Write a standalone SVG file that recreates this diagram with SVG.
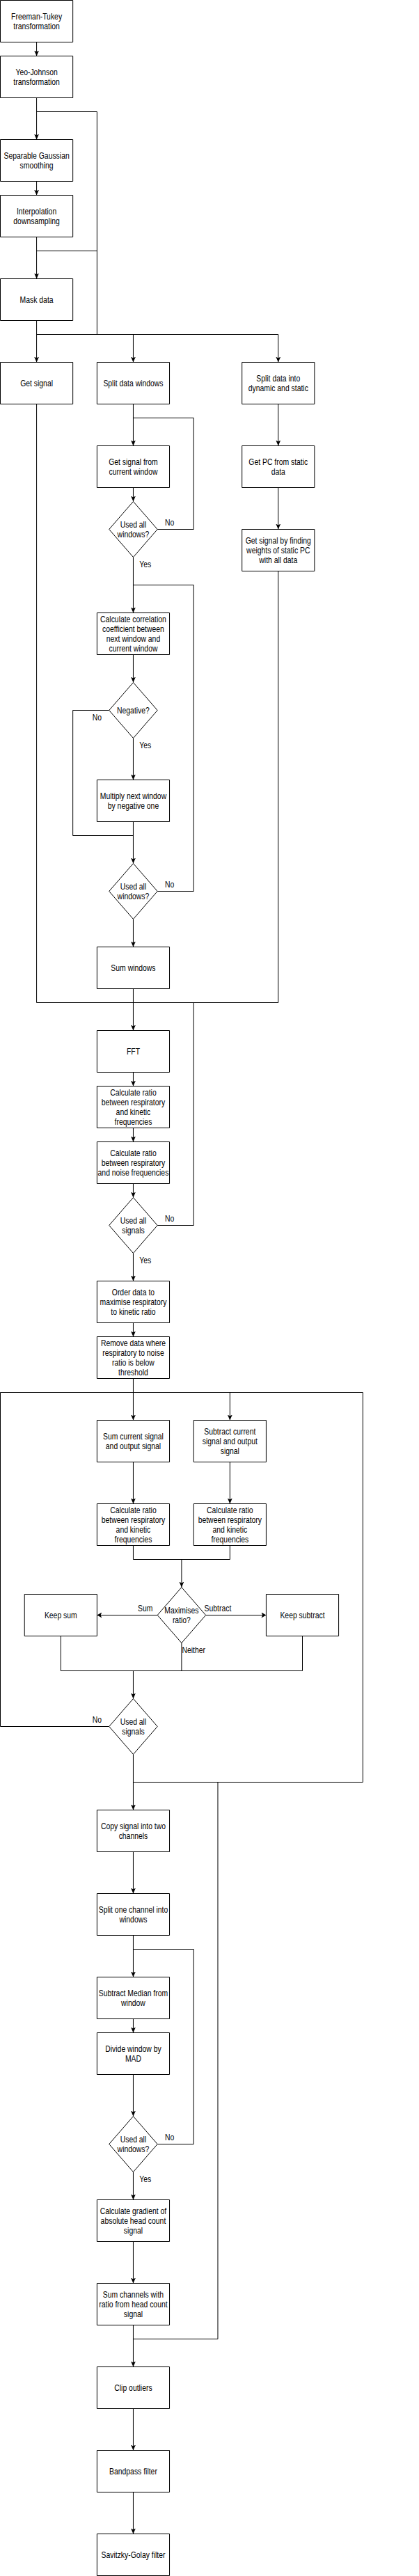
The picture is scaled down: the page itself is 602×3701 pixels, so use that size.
<svg xmlns="http://www.w3.org/2000/svg" width="602" height="3701" viewBox="0 0 602 3701">
<style>
.n rect,.n polygon{fill:#fff;stroke:#000;stroke-width:1;vector-effect:non-scaling-stroke}
.e path{fill:none;stroke:#000;stroke-width:1;vector-effect:non-scaling-stroke}
.e path.a{marker-end:url(#arr)}
text{font-family:"Liberation Sans",Arial,sans-serif;font-size:12px;fill:#000;text-anchor:middle}
</style>
<defs>
<marker id="arr" viewBox="0 0 8 8" refX="8" refY="4" markerWidth="8" markerHeight="8" orient="auto" markerUnits="userSpaceOnUse"><path d="M0,0 L8,4 L0,8 L2,4 Z" fill="#000"/></marker>
</defs>
<rect width="602" height="3701" fill="#fff"/>
<g transform="matrix(0.868 0 0 1 0.5 0.5)">
<g id="connectors" class="e">
<path class="a" d="M60,60V80"/>
<path class="a" d="M60,140V200"/>
<path d="M60,160H160V480"/>
<path class="a" d="M60,260V280"/>
<path class="a" d="M60,340V400"/>
<path d="M60,360H160"/>
<path class="a" d="M60,460V520"/>
<path d="M60,480H460"/>
<path class="a" d="M220,480V520"/>
<path class="a" d="M460,480V520"/>
<path class="a" d="M220,580V640"/>
<path d="M220,600H320V760H260"/>
<path class="a" d="M220,700V720"/>
<path class="a" d="M220,800V880"/>
<path d="M220,840H320V1280H260"/>
<path class="a" d="M220,940V980"/>
<path class="a" d="M220,1060V1120"/>
<path d="M180,1020H120V1200H220"/>
<path class="a" d="M220,1180V1240"/>
<path class="a" d="M220,1320V1360"/>
<path class="a" d="M220,1420V1480"/>
<path d="M60,580V1440H460V820"/>
<path class="a" d="M460,580V640"/>
<path class="a" d="M460,700V760"/>
<path d="M320,1440V1760H260"/>
<path class="a" d="M220,1540V1560"/>
<path class="a" d="M220,1620V1640"/>
<path class="a" d="M220,1700V1720"/>
<path class="a" d="M220,1800V1840"/>
<path class="a" d="M220,1900V1920"/>
<path class="a" d="M220,1980V2040"/>
<path d="M0,2000H600"/>
<path class="a" d="M380,2000V2040"/>
<path class="a" d="M220,2100V2160"/>
<path class="a" d="M380,2100V2160"/>
<path d="M220,2220V2240H380V2220"/>
<path class="a" d="M300,2240V2280"/>
<path class="a" d="M260,2320H160"/>
<path class="a" d="M340,2320H440"/>
<path d="M100,2350V2400H500V2350"/>
<path d="M300,2360V2400"/>
<path class="a" d="M220,2400V2440"/>
<path d="M180,2480H0V2000"/>
<path d="M600,2000V2560H220"/>
<path class="a" d="M220,2520V2600"/>
<path d="M360,2560V3360H220"/>
<path class="a" d="M220,2660V2720"/>
<path class="a" d="M220,2780V2840"/>
<path d="M220,2800H320V3080H260"/>
<path class="a" d="M220,2900V2920"/>
<path class="a" d="M220,2980V3040"/>
<path class="a" d="M220,3120V3160"/>
<path class="a" d="M220,3220V3280"/>
<path class="a" d="M220,3340V3400"/>
<path class="a" d="M220,3460V3520"/>
<path class="a" d="M220,3580V3640"/>
<text x="280" y="754.5">No</text>
<text x="240" y="814.5">Yes</text>
<text x="160" y="1034.5">No</text>
<text x="240" y="1074.5">Yes</text>
<text x="280" y="1274.5">No</text>
<text x="280" y="1754.5">No</text>
<text x="240" y="1814.5">Yes</text>
<text x="240" y="2314.5">Sum</text>
<text x="360" y="2314.5">Subtract</text>
<text x="320" y="2374.5">Neither</text>
<text x="160" y="2474.5">No</text>
<text x="280" y="3074.5">No</text>
<text x="240" y="3134.5">Yes</text>
</g>
<g id="n1" class="n"><rect x="0" y="0" width="120" height="60"/><text x="60" y="27.5">Freeman-Tukey</text><text x="60" y="41.5">transformation</text></g>
<g id="n2" class="n"><rect x="0" y="80" width="120" height="60"/><text x="60" y="107.5">Yeo-Johnson</text><text x="60" y="121.5">transformation</text></g>
<g id="n3" class="n"><rect x="0" y="200" width="120" height="60"/><text x="60" y="227.5">Separable Gaussian</text><text x="60" y="241.5">smoothing</text></g>
<g id="n4" class="n"><rect x="0" y="280" width="120" height="60"/><text x="60" y="307.5">Interpolation</text><text x="60" y="321.5">downsampling</text></g>
<g id="n5" class="n"><rect x="0" y="400" width="120" height="60"/><text x="60" y="434.5">Mask data</text></g>
<g id="n6" class="n"><rect x="0" y="520" width="120" height="60"/><text x="60" y="554.5">Get signal</text></g>
<g id="n7" class="n"><rect x="160" y="520" width="120" height="60"/><text x="220" y="554.5">Split data windows</text></g>
<g id="n8" class="n"><rect x="400" y="520" width="120" height="60"/><text x="460" y="547.5">Split data into</text><text x="460" y="561.5">dynamic and static</text></g>
<g id="n9" class="n"><rect x="160" y="640" width="120" height="60"/><text x="220" y="667.5">Get signal from</text><text x="220" y="681.5">current window</text></g>
<g id="d1" class="n"><polygon points="220,720 260,760 220,800 180,760"/><text x="220" y="757.5">Used all</text><text x="220" y="771.5">windows?</text></g>
<g id="n10" class="n"><rect x="400" y="640" width="120" height="60"/><text x="460" y="667.5">Get PC from static</text><text x="460" y="681.5">data</text></g>
<g id="n11" class="n"><rect x="400" y="760" width="120" height="60"/><text x="460" y="780.5">Get signal by finding</text><text x="460" y="794.5">weights of static PC</text><text x="460" y="808.5">with all data</text></g>
<g id="n12" class="n"><rect x="160" y="880" width="120" height="60"/><text x="220" y="893.5">Calculate correlation</text><text x="220" y="907.5">coefficient between</text><text x="220" y="921.5">next window and</text><text x="220" y="935.5">current window</text></g>
<g id="d2" class="n"><polygon points="220,980 260,1020 220,1060 180,1020"/><text x="220" y="1024.5">Negative?</text></g>
<g id="n13" class="n"><rect x="160" y="1120" width="120" height="60"/><text x="220" y="1147.5">Multiply next window</text><text x="220" y="1161.5">by negative one</text></g>
<g id="d3" class="n"><polygon points="220,1240 260,1280 220,1320 180,1280"/><text x="220" y="1277.5">Used all</text><text x="220" y="1291.5">windows?</text></g>
<g id="n14" class="n"><rect x="160" y="1360" width="120" height="60"/><text x="220" y="1394.5">Sum windows</text></g>
<g id="n15" class="n"><rect x="160" y="1480" width="120" height="60"/><text x="220" y="1514.5">FFT</text></g>
<g id="n16" class="n"><rect x="160" y="1560" width="120" height="60"/><text x="220" y="1573.5">Calculate ratio</text><text x="220" y="1587.5">between respiratory</text><text x="220" y="1601.5">and kinetic</text><text x="220" y="1615.5">frequencies</text></g>
<g id="n17" class="n"><rect x="160" y="1640" width="120" height="60"/><text x="220" y="1660.5">Calculate ratio</text><text x="220" y="1674.5">between respiratory</text><text x="220" y="1688.5">and noise frequencies</text></g>
<g id="d4" class="n"><polygon points="220,1720 260,1760 220,1800 180,1760"/><text x="220" y="1757.5">Used all</text><text x="220" y="1771.5">signals</text></g>
<g id="n18" class="n"><rect x="160" y="1840" width="120" height="60"/><text x="220" y="1860.5">Order data to</text><text x="220" y="1874.5">maximise respiratory</text><text x="220" y="1888.5">to kinetic ratio</text></g>
<g id="n19" class="n"><rect x="160" y="1920" width="120" height="60"/><text x="220" y="1933.5">Remove data where</text><text x="220" y="1947.5">respiratory to noise</text><text x="220" y="1961.5">ratio is below</text><text x="220" y="1975.5">threshold</text></g>
<g id="n20" class="n"><rect x="160" y="2040" width="120" height="60"/><text x="220" y="2067.5">Sum current signal</text><text x="220" y="2081.5">and output signal</text></g>
<g id="n21" class="n"><rect x="320" y="2040" width="120" height="60"/><text x="380" y="2060.5">Subtract current</text><text x="380" y="2074.5">signal and output</text><text x="380" y="2088.5">signal</text></g>
<g id="n22" class="n"><rect x="160" y="2160" width="120" height="60"/><text x="220" y="2173.5">Calculate ratio</text><text x="220" y="2187.5">between respiratory</text><text x="220" y="2201.5">and kinetic</text><text x="220" y="2215.5">frequencies</text></g>
<g id="n23" class="n"><rect x="320" y="2160" width="120" height="60"/><text x="380" y="2173.5">Calculate ratio</text><text x="380" y="2187.5">between respiratory</text><text x="380" y="2201.5">and kinetic</text><text x="380" y="2215.5">frequencies</text></g>
<g id="d5" class="n"><polygon points="300,2280 340,2320 300,2360 260,2320"/><text x="300" y="2317.5">Maximises</text><text x="300" y="2331.5">ratio?</text></g>
<g id="n24" class="n"><rect x="40" y="2290" width="120" height="60"/><text x="100" y="2324.5">Keep sum</text></g>
<g id="n25" class="n"><rect x="440" y="2290" width="120" height="60"/><text x="500" y="2324.5">Keep subtract</text></g>
<g id="d6" class="n"><polygon points="220,2440 260,2480 220,2520 180,2480"/><text x="220" y="2477.5">Used all</text><text x="220" y="2491.5">signals</text></g>
<g id="n26" class="n"><rect x="160" y="2600" width="120" height="60"/><text x="220" y="2627.5">Copy signal into two</text><text x="220" y="2641.5">channels</text></g>
<g id="n27" class="n"><rect x="160" y="2720" width="120" height="60"/><text x="220" y="2747.5">Split one channel into</text><text x="220" y="2761.5">windows</text></g>
<g id="n28" class="n"><rect x="160" y="2840" width="120" height="60"/><text x="220" y="2867.5">Subtract Median from</text><text x="220" y="2881.5">window</text></g>
<g id="n29" class="n"><rect x="160" y="2920" width="120" height="60"/><text x="220" y="2947.5">Divide window by</text><text x="220" y="2961.5">MAD</text></g>
<g id="d7" class="n"><polygon points="220,3040 260,3080 220,3120 180,3080"/><text x="220" y="3077.5">Used all</text><text x="220" y="3091.5">windows?</text></g>
<g id="n30" class="n"><rect x="160" y="3160" width="120" height="60"/><text x="220" y="3180.5">Calculate gradient of</text><text x="220" y="3194.5">absolute head count</text><text x="220" y="3208.5">signal</text></g>
<g id="n31" class="n"><rect x="160" y="3280" width="120" height="60"/><text x="220" y="3300.5">Sum channels with</text><text x="220" y="3314.5">ratio from head count</text><text x="220" y="3328.5">signal</text></g>
<g id="n32" class="n"><rect x="160" y="3400" width="120" height="60"/><text x="220" y="3434.5">Clip outliers</text></g>
<g id="n33" class="n"><rect x="160" y="3520" width="120" height="60"/><text x="220" y="3554.5">Bandpass filter</text></g>
<g id="n34" class="n"><rect x="160" y="3640" width="120" height="60"/><text x="220" y="3674.5">Savitzky-Golay filter</text></g>
</g>
</svg>
